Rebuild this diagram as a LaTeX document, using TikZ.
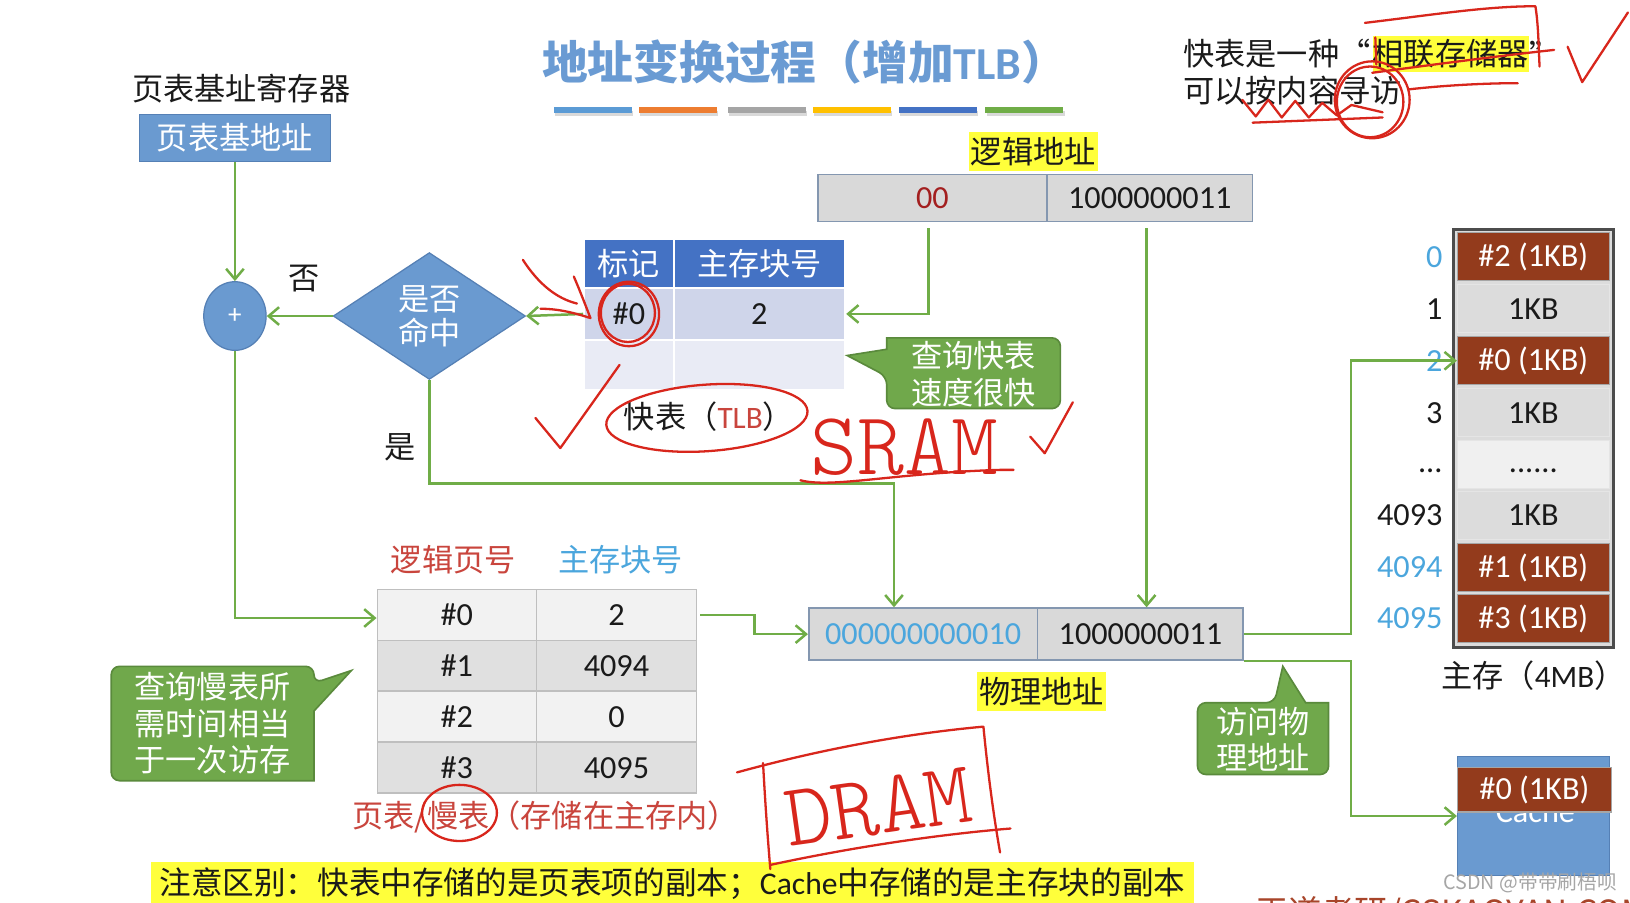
\documentclass[tikz,border=0pt]{standalone}
\usepackage{fontspec}
\setmainfont{Noto Sans CJK SC}
\newfontfamily\carl{Carlito}
\newfontfamily\handfont{lmmonolt10-regular.otf}
\usetikzlibrary{shapes.geometric,arrows.meta}
\definecolor{grn}{HTML}{70AD47}
\definecolor{boxblue}{HTML}{6A9AD0}
\definecolor{boxblueD}{HTML}{5580B5}
\definecolor{tlbhead}{HTML}{4472C4}
\definecolor{tlbA}{HTML}{CFD5EA}
\definecolor{tlbB}{HTML}{E9EBF5}
\definecolor{cellgray}{HTML}{D9D9D9}
\definecolor{cellborder}{HTML}{8497B0}
\definecolor{memred}{HTML}{933B1C}
\definecolor{memgray}{HTML}{DCDCDC}
\definecolor{ptA}{HTML}{F2F2F2}
\definecolor{ptB}{HTML}{E0E0E0}
\definecolor{ptborder}{HTML}{BFBFBF}
\definecolor{callgrn}{HTML}{70A84B}
\definecolor{callgrnD}{HTML}{5A8A3C}
\definecolor{hred}{HTML}{D8261C}
\definecolor{titleblue}{HTML}{6A9BD3}
\definecolor{lblue}{HTML}{4BA6DD}
\definecolor{dred}{HTML}{A31F1F}
\definecolor{capred}{HTML}{C9453D}
\definecolor{hl}{HTML}{FFFF3B}
\definecolor{txt}{HTML}{1A1A1A}
\definecolor{bar1}{HTML}{5B9BD5}
\definecolor{bar2}{HTML}{ED7D31}
\definecolor{bar3}{HTML}{A5A5A5}
\definecolor{bar4}{HTML}{FFC000}
\definecolor{bar5}{HTML}{4472C4}
\definecolor{bar6}{HTML}{70AD47}
\definecolor{wdred}{HTML}{A8452A}
\begin{document}
\begin{tikzpicture}[x=0.5pt,y=-0.5pt,
  lbl/.style={font=\fontsize{15}{18}\selectfont, text=txt, inner sep=0pt},
  num/.style={font=\carl\fontsize{15.5}{18}\selectfont, text=txt, inner sep=0pt},
  hlbox/.style={lbl, fill=hl, inner xsep=1pt, inner ysep=2.5pt},
  bluebox/.style={fill=boxblue, draw=boxblueD, line width=0.6pt, text=white, font=\fontsize{15}{18}\selectfont, inner sep=0pt},
  tlbc/.style={draw=white, line width=1pt, inner sep=0pt, minimum width=43pt, text=txt, font=\carl\fontsize{15.5}{18}\selectfont},
  tlbw/.style={tlbc, minimum width=82.5pt},
  addr/.style={fill=cellgray, draw=cellborder, line width=0.8pt, minimum height=22.5pt, inner sep=0pt, font=\carl\fontsize{15.5}{18}\selectfont, text=txt},
  ptc/.style={draw=ptborder, line width=0.8pt, inner sep=0pt, minimum height=24.5pt, minimum width=76.5pt, font=\carl\fontsize{15.5}{18}\selectfont, text=txt},
  mb/.style={fill=memred, draw=black!35, line width=0.6pt, text=white, minimum width=73pt, minimum height=23pt, inner sep=0pt, font=\carl\fontsize{15.5}{18}\selectfont},
  mg/.style={mb, fill=memgray, draw=black!10, text=txt},
  callout/.style={fill=callgrn, draw=callgrnD, line width=0.8pt},
  calltxt/.style={text=white, align=center, font=\fontsize{15}{17.5}\selectfont, inner sep=0pt},
  arr/.style={draw=grn, line width=1.2pt, -{Straight Barb[length=5pt,width=8.5pt]}},
  hand/.style={draw=hred, line width=1.1pt, line cap=round, line join=round}]
\path[use as bounding box] (0,0) rectangle (1568,868);
\clip (0,0) rectangle (1568,868);
\fill[white] (0,0) rectangle (1568,868);

% title and bars
\node[font=\bfseries\fontsize{22}{22}\selectfont, text=titleblue, inner sep=0pt] (title) at (774,60) {地址变换过程（增加{\carl\bfseries TLB}）};
\foreach \xa/\c in {533/bar1,615/bar2,700/bar3,782/bar4,865/bar5,948/bar6}{
  \fill[black!15] (\xa+1,107) rectangle (\xa+76,112);
  \fill[\c] (\xa,103) rectangle (\xa+75,109);
}

% top right note
\node[lbl, anchor=west] (f1a) at (1138,52) {快表是一种“};
\node[lbl, anchor=west, fill=hl, inner ysep=1.5pt] (f1b) at (1320,52) {相联存储器};
\node[lbl, anchor=west] (f1c) at (f1b.east) {”};
\node[lbl, anchor=west] (f2) at (1138,87) {可以按内容寻访};

% left flow
\node[lbl] (reglbl) at (232,85) {页表基址寄存器};
\node[bluebox, minimum width=92pt, minimum height=22.5pt] (base) at (226,132.5) {页表基地址};
\node[bluebox, ellipse, minimum width=30pt, minimum height=33pt, font=\carl\fontsize{13}{13}\selectfont] (plus) at (226,304) {+};
\node[bluebox, diamond, minimum width=92.5pt, minimum height=61pt] (hit) at (413,304) {};
\node[lbl, text=white, align=center, font=\fontsize{15}{16.5}\selectfont] (hittxt) at (413,304) {是否\\命中};
\node[lbl] (no) at (293,268) {否};
\node[lbl] (yes) at (385,430) {是};

% TLB
\node[tlbc, fill=tlbhead, text=white, font=\fontsize{15}{18}\selectfont, minimum height=23.5pt] (th1) at (605,253.5) {标记};
\node[tlbw, fill=tlbhead, text=white, font=\fontsize{15}{18}\selectfont, minimum height=23.5pt] (th2) at (730.5,253.5) {主存块号};
\node[tlbc, fill=tlbA, minimum height=25pt] (t11) at (605,302) {\#0};
\node[tlbw, fill=tlbA, minimum height=25pt] (t12) at (730.5,302) {2};
\node[tlbc, fill=tlbB, minimum height=24pt] (t21) at (605,351) {};
\node[tlbw, fill=tlbB, minimum height=24pt] (t22) at (730.5,351) {};
\node[lbl] (tlblbl) at (682,401) {快表（{\carl\color{capred}TLB}）};

% logical address
\node[hlbox] (lalbl) at (994,146) {逻辑地址};
\node[addr, minimum width=110pt] (la1) at (897,190.5) {\color{dred}00};
\node[addr, minimum width=99pt] (la2) at (1106,190.5) {1000000011};

% TLB callout
\draw[callout] (815,342) -- (853,336) -- (853,325) [rounded corners=4pt] -- (1020,325) -- (1020,393) -- (853,393) -- (853,362) [sharp corners] -- cycle;
\node[calltxt] (c1) at (936.5,360) {查询快表\\速度很快};

% page table
\node[lbl, text=capred] (lpn) at (436,538) {逻辑页号};
\node[lbl, text=lblue] (mbn) at (597,538) {主存块号};
\node[ptc, fill=ptA] (pt00) at (439.5,591.5) {\#0};
\node[ptc, fill=ptA, minimum width=77pt] (pt01) at (593,591.5) {2};
\node[ptc, fill=ptB] (pt10) at (439.5,640.5) {\#1};
\node[ptc, fill=ptB, minimum width=77pt] (pt11) at (593,640.5) {4094};
\node[ptc, fill=ptA] (pt20) at (439.5,689.5) {\#2};
\node[ptc, fill=ptA, minimum width=77pt] (pt21) at (593,689.5) {0};
\node[ptc, fill=ptB] (pt30) at (439.5,738.5) {\#3};
\node[ptc, fill=ptB, minimum width=77pt] (pt31) at (593,738.5) {4095};
\node[lbl, text=capred] (ptcap) at (525,786) {页表/慢表（存储在主存内）};

% slow table callout
\draw[callout] (338,645) -- (302,684) -- (302,751) [rounded corners=4pt] -- (107,751) -- (107,641) -- (302,641) -- (302,657) [sharp corners] -- cycle;
\node[calltxt] (c2) at (204.5,696) {查询慢表所\\需时间相当\\于一次访存};

% physical address
\node[addr, minimum width=110pt, minimum height=25pt] (pa1) at (888,610) {\color{lblue}000000000010};
\node[addr, minimum width=99pt, minimum height=25pt] (pa2) at (1097,610) {1000000011};
\node[hlbox] (palbl) at (1002,665) {物理地址};

% physical callout
\draw[callout] (1234,641) -- (1256,676) -- (1278,676) [rounded corners=4pt] -- (1278,745) -- (1152,745) -- (1152,676) -- (1226,676) [sharp corners] -- cycle;
\node[calltxt] (c3) at (1215,711) {访问物\\理地址};

% main memory
\node[draw=black!70, line width=1.2pt, fill=memgray, minimum width=77pt, minimum height=201pt, inner sep=0pt] (memframe) at (1475,422) {};
\node[mb] (mem0) at (1475,247) {\#2 (1KB)};
\node[mg] (mem1) at (1475,297) {1KB};
\node[mb] (mem2) at (1475,347) {\#0 (1KB)};
\node[mg] (mem3) at (1475,397) {1KB};
\node[mg, fill=black!6] (mem4) at (1475,447) {};
\node[num] (memdots) at (1475,453) {......};
\node[mg] (mem5) at (1475,496) {1KB};
\node[mb] (mem6) at (1475,546) {\#1 (1KB)};
\node[mb] (mem7) at (1475,595) {\#3 (1KB)};
\node[num, anchor=east, text=lblue] (ml0) at (1388,247) {0};
\node[num, anchor=east] (ml1) at (1388,297) {1};
\node[num, anchor=east, text=lblue] (ml2) at (1388,347) {2};
\node[num, anchor=east] (ml3) at (1388,397) {3};
\node[num, anchor=east] (ml4) at (1388,453) {...};
\node[num, anchor=east] (ml5) at (1388,496) {4093};
\node[num, anchor=east, text=lblue] (ml6) at (1388,546) {4094};
\node[num, anchor=east, text=lblue] (ml7) at (1388,595) {4095};
\node[lbl] (memlbl) at (1475,650) {主存（{\carl 4MB}）};

% cache
\node[fill=boxblue, draw=boxblueD, line width=0.5pt, minimum width=73pt, minimum height=57pt, inner sep=0pt] (cache) at (1475,785) {};
\node[num, text=white] (cachetxt) at (1477,781) {Cache};
\node[mb, minimum width=74pt, minimum height=21.5pt] (cacheblk) at (1476,759.5) {\#0 (1KB)};

% connectors
\draw[arr] (base) -- (plus);
\draw[arr] (hit.west) -- (plus.east);
\draw[arr] (t11.west) -- (hit.east);
\draw[arr, shorten <=3pt] ([xshift=-2pt]la1.south) |- (t12.east);
\draw[arr, shorten <=3pt] ([xshift=-1.5pt]la2.south) -- ([xshift=-1.5pt]la2.south |- pa2.north);
\coordinate (bend1) at (860,465);
\draw[arr] (hit.south) |- (bend1) -- (bend1 |- pa1.north);
\draw[arr] (plus.south) |- ([yshift=-1.5pt]pt00.west);
\draw[arr] ([xshift=1.5pt]pt01.east) -- ++(52,0) |- (pa1.west);
\draw[arr] (pa2.east) -- ++(103,0) |- (mem2.west);
\draw[arr] (pa2.south east) -- ++(103,0) |- (cache.west);

% bottom note
\node[lbl, fill=hl, font=\fontsize{15.2}{18}\selectfont, inner xsep=4pt, minimum height=21pt, anchor=west] (note) at (145,850) {注意区别：快表中存储的是页表项的副本；{\carl Cache}中存储的是主存块的副本};
\node[font=\fontsize{9.5}{10}\selectfont, text=black!35, inner sep=0pt] (wm) at (1472,849) {CSDN @带带刷梧呗};
\node[anchor=north west, font=\fontsize{16}{16}\selectfont, text=wdred, inner sep=0pt] (wd) at (1207,862) {王道考研/CSKAOYAN.COM};

% hand-written annotations
\node[text=hred, font=\handfont\fontsize{43}{43}\selectfont, inner sep=0pt] (sram) at (870,430) {SRAM};
\node[text=hred, font=\handfont\fontsize{43}{43}\selectfont, inner sep=0pt, rotate=8] (dram) at (845,776) {DRAM};
\draw[hand] (770,462) .. controls (800,470) and (860,455) .. (962,452) -- (975,452);
\draw[hand] (991,420) -- (1005,436) -- (1032,387);
\draw[hand] (709,743) .. controls (800,718) and (880,705) .. (946,699) .. controls (950,740) and (955,780) .. (962,820);
\draw[hand] (734,734) .. controls (736,770) and (738,800) .. (741,836);
\draw[hand] (741,832) .. controls (820,815) and (900,803) .. (972,797);
\draw[hand] (1313,22) .. controls (1380,14) and (1430,6) .. (1477,6) .. controls (1480,25) and (1480,45) .. (1481,64);
\draw[hand] (1323,36) -- (1324,62);
\draw[hand] (1320,70) .. controls (1380,62) and (1440,54) .. (1495,48);
\draw[hand] (1355,86) .. controls (1390,82) and (1430,80) .. (1460,80);
\draw[hand] (1508,45) -- (1522,79) -- (1566,12);
\draw[hand] (1320,96) ellipse [x radius=18pt, y radius=18.5pt];
\draw[hand] (1318,98) ellipse [x radius=16pt, y radius=17pt];
\draw[hand] (1195,96) -- (1208,112) -- (1220,96) -- (1233,113) -- (1246,97) -- (1259,113) -- (1272,99) -- (1286,111) -- (1300,101) -- (1330,108);
\draw[hand] (1330,113) -- (1205,118);
\draw[hand] (605,302) ellipse [x radius=14.5pt, y radius=15.5pt];
\draw[hand] (604,301) ellipse [x radius=13pt, y radius=14pt];
\draw[hand] (503,250) .. controls (518,273) and (535,287) .. (555,292);
\draw[hand] (552,266) .. controls (558,280) and (563,293) .. (568,306) .. controls (550,300) and (535,297) .. (520,297);
\draw[hand] (515,402) -- (539,431) -- (596,351);
\draw[hand, rotate around={4:(680,402)}] (680,402) ellipse [x radius=48.5pt, y radius=16pt];
\draw[hand] (442,782) ellipse [x radius=18pt, y radius=13.5pt];
\end{tikzpicture}
\end{document}
